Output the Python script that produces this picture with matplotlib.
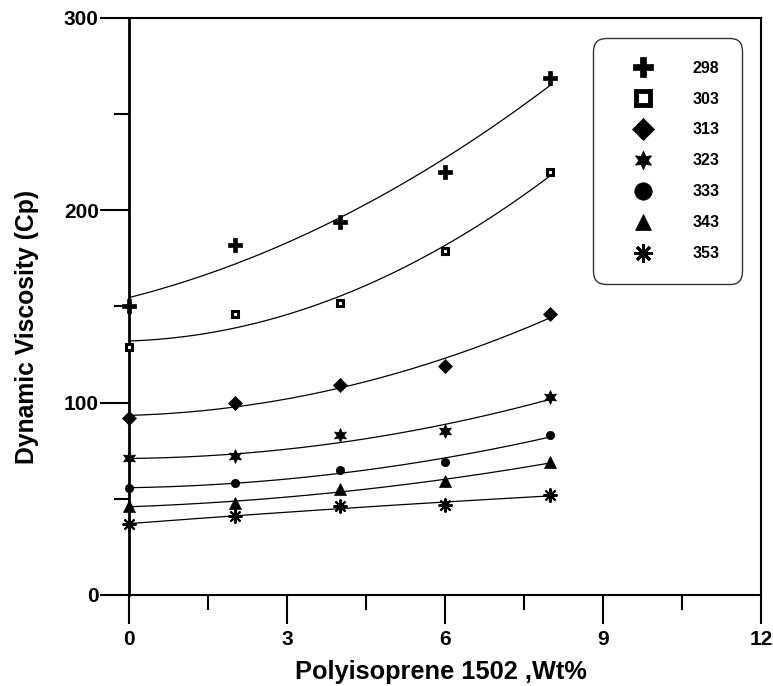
import numpy as np
import matplotlib
matplotlib.use("Agg")
import matplotlib.pyplot as plt
from matplotlib.ticker import MultipleLocator

plt.rcParams['font.family'] = ['Liberation Sans', 'DejaVu Sans']
plt.rcParams['font.weight'] = 'bold'

# polymer concentration (wt%) and viscosity at each temperature (K)
wt = np.array([0, 2, 4, 6, 8])
temps = ['298', '303', '313', '323', '333', '343', '353']
visc_298 = [150, 182, 194, 220, 269]
visc_303 = [129, 146, 152, 179, 220]
visc_313 = [92, 100, 109, 119, 146]
visc_323 = [71, 72, 83, 85, 103]
visc_333 = [55.5, 58, 65, 69, 83]
visc_343 = [46, 48, 55, 59, 69]
visc_353 = [37, 41, 46, 47, 52]
series = [visc_298, visc_303, visc_313, visc_323, visc_333, visc_343, visc_353]

# marker style per temperature, plus the larger size used in the legend
styles = [
    dict(marker='P', ms=10, mfc='black', mec='black', mew=0.5),
    dict(marker='s', ms=5, mfc='white', mec='black', mew=2.2),
    dict(marker='D', ms=7.5, mfc='black', mec='black', mew=0.5),
    dict(marker=(6, 1, 0), ms=10, mfc='black', mec='black', mew=0.5),
    dict(marker='o', ms=6, mfc='black', mec='black', mew=0.5),
    dict(marker='^', ms=8, mfc='black', mec='black', mew=0.5),
    dict(marker=(8, 2, 0), ms=10, mfc='black', mec='black', mew=1.5),
]
legend_ms = [14.5, 10, 11, 13.5, 12.5, 12, 13]
legend_mew = [0.5, 3.5, 0.5, 0.5, 0.5, 0.5, 2.0]

fig = plt.figure(figsize=(7.73, 6.86), dpi=100)
ax = fig.add_axes([0.1673, 0.1327, 0.8172, 0.8411])

xs = np.linspace(0, 8, 200)
for vals, lab, st in zip(series, temps, styles):
    coef = np.polyfit(wt, vals, 2)
    ax.plot(xs, np.polyval(coef, xs), color='black', lw=0.9, zorder=2)
    ax.plot(wt, vals, ls='none', label=lab, zorder=3, clip_on=False, **st)

ax.set_xlim(0, 12)
ax.set_ylim(0, 300)
ax.xaxis.set_major_locator(MultipleLocator(3))
ax.xaxis.set_minor_locator(MultipleLocator(1.5))
ax.yaxis.set_major_locator(MultipleLocator(100))
ax.yaxis.set_minor_locator(MultipleLocator(50))
ax.tick_params(which='major', length=21, width=1.5, labelsize=15)
ax.tick_params(which='minor', length=11, width=1.5)
ax.tick_params(axis='x', which='major', pad=4)
ax.tick_params(axis='y', which='major', pad=1)
for s in ax.spines.values():
    s.set_linewidth(1.5)
ax.spines['left'].set_linewidth(2)

ax.set_xlabel('Polyisoprene 1502 ,Wt%', fontsize=18.3, fontweight='bold')
ax.set_ylabel('Dynamic Viscosity (Cp)', fontsize=17.8, fontweight='bold')
ax.xaxis.set_label_coords(0.493, -0.112)
ax.yaxis.set_label_coords(-0.143, 0.464)

leg = ax.legend(loc='upper left', bbox_to_anchor=(0.734, 0.965), frameon=True,
                fancybox=True, fontsize=11.5, labelspacing=1.0,
                handlelength=3.5, handletextpad=1.36, borderpad=1.4, borderaxespad=0)
for h, ms, mew in zip(leg.legend_handles, legend_ms, legend_mew):
    h.set_markersize(ms)
    h.set_markeredgewidth(mew)
frame = leg.get_frame()
frame.set_edgecolor('black')
frame.set_linewidth(1.0)
frame.set_boxstyle('round,pad=0,rounding_size=0.8')
for t in leg.get_texts():
    t.set_fontweight('bold')

fig.savefig('out.png', dpi=100)
